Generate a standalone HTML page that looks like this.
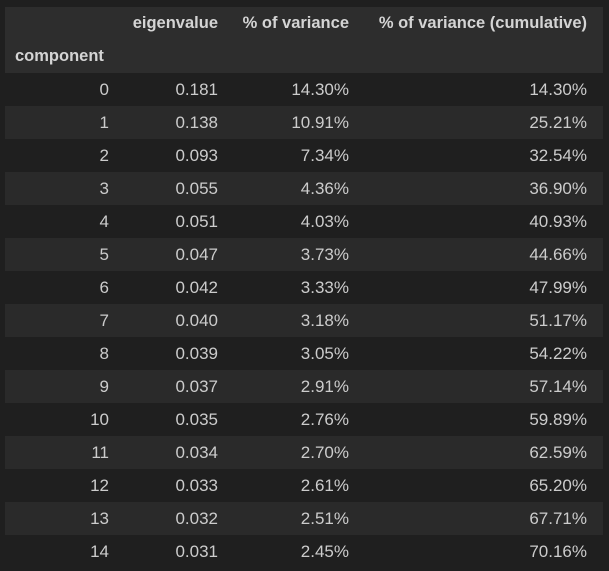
<!DOCTYPE html>
<html><head><meta charset="utf-8"><style>
body{margin:0;width:609px;height:571px;background:#1f1f1f;overflow:hidden;font-family:"Liberation Sans",sans-serif;color:#cccccc;font-size:17px}
.row{position:absolute;left:5px;width:598px;height:33px}
.c{position:absolute;top:0;line-height:33px;text-align:right;white-space:nowrap}
.h{font-weight:bold;color:#d4d4d4;font-size:16.5px}
</style></head><body>
<div id="t"></div>
<script>
const comps=[0,1,2,3,4,5,6,7,8,9,10,11,12,13,14];
const eig=["0.181","0.138","0.093","0.055","0.051","0.047","0.042","0.040","0.039","0.037","0.035","0.034","0.033","0.032","0.031"];
const pct=["14.30%","10.91%","7.34%","4.36%","4.03%","3.73%","3.33%","3.18%","3.05%","2.91%","2.76%","2.70%","2.61%","2.51%","2.45%"];
const cum=["14.30%","25.21%","32.54%","36.90%","40.93%","44.66%","47.99%","51.17%","54.22%","57.14%","59.89%","62.59%","65.20%","67.71%","70.16%"];
const rights=[104,213,344,582];
const t=document.getElementById('t');
function row(y,bg,vals,name,bold){
 const r=document.createElement('div');r.className='row';r.style.top=y+'px';r.style.background=bg;
 
 
 vals.forEach((v,i)=>{if(v==null)return;const c=document.createElement('div');c.className='c'+(bold?' h':'');
  c.textContent=v;c.style.right=(598-rights[i])+'px';
  
  
  r.appendChild(c);});
 t.appendChild(r);return r;}
row(7,'#2d2d2d',[null,'eigenvalue','% of variance','% of variance (cumulative)'],'column-header',true);
const r2=row(40,'#2d2d2d',[],'index-header',true);
const cc=document.createElement('div');cc.className='c h';cc.textContent='component';cc.style.left='10px';


r2.appendChild(cc);
comps.forEach((k,i)=>row(73+i*33,i%2?'#2a2a2a':'#1f1f1f',[String(k),eig[i],pct[i],cum[i]],'data-row',false));
</script>
</body></html>
